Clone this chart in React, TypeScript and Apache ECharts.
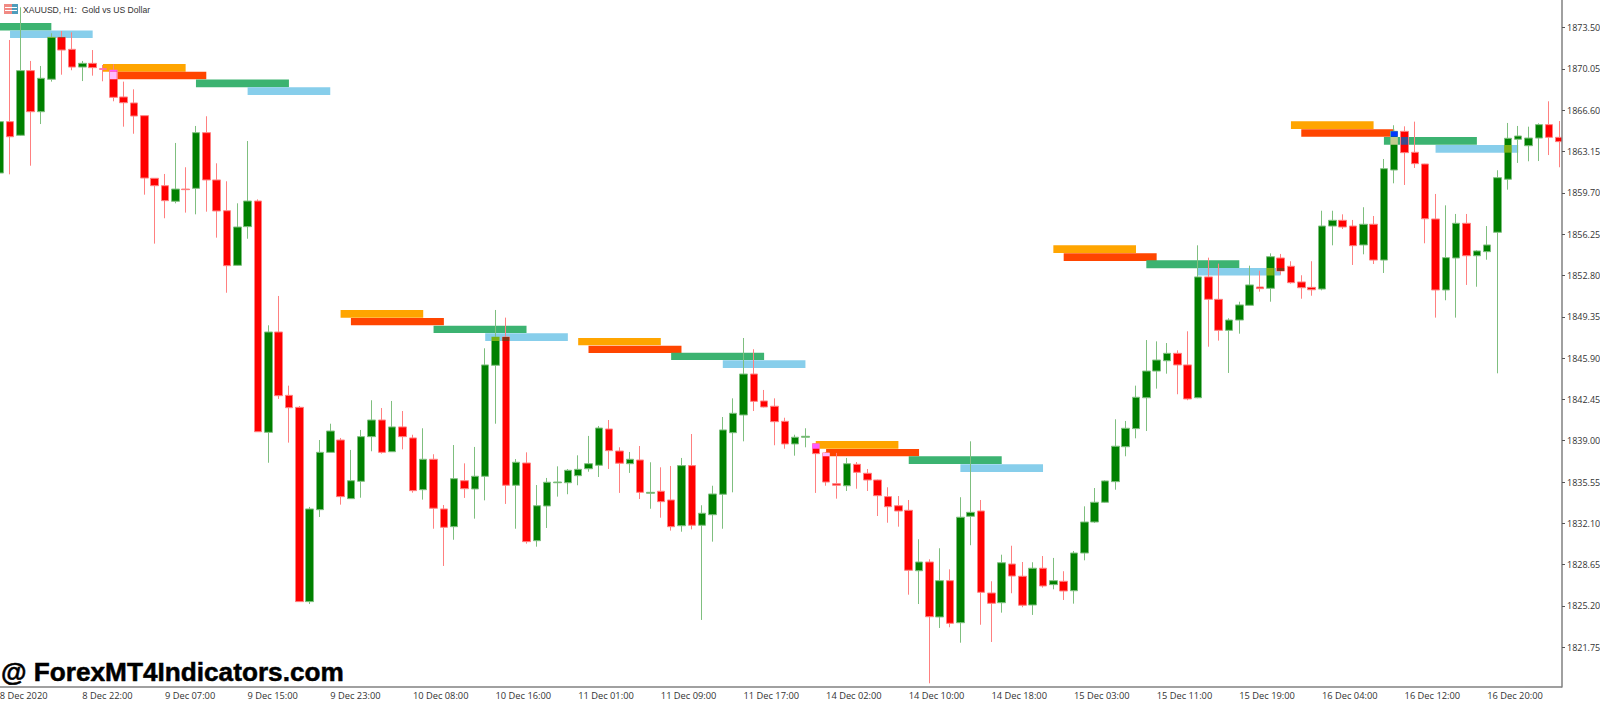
import React, { useEffect, useRef } from "react";
import * as echarts from "echarts";

const opens = [
  1861.36, 1865.65, 1864.51, 1869.91, 1866.48, 1869.19, 1872.69, 1871.69, 1870.21, 1870.52,
  1870.07, 1869.96, 1867.71, 1867.21, 1866.15, 1860.92, 1860.30, 1859.00, 1860.02, 1860.08,
  1864.73, 1860.78, 1858.21, 1853.65, 1856.88, 1859.02, 1839.70, 1848.08, 1842.79, 1841.79,
  1825.56, 1833.24, 1838.03, 1839.06, 1834.16, 1835.61, 1839.34, 1840.73, 1838.08, 1840.15,
  1839.23, 1834.91, 1837.45, 1833.30, 1831.82, 1835.66, 1834.97, 1836.03, 1845.30, 1847.66,
  1835.28, 1837.14, 1830.65, 1833.55, 1835.49, 1835.49, 1836.08, 1836.66, 1836.95, 1839.98,
  1838.14, 1837.08, 1837.39, 1834.61, 1834.78, 1834.05, 1831.90, 1836.92, 1831.94, 1832.82,
  1834.53, 1839.67, 1841.15, 1844.57, 1842.32, 1841.88, 1840.62, 1838.73, 1839.29, 1838.75,
  1837.98, 1835.41, 1835.24, 1837.03, 1836.28, 1835.72, 1834.33, 1833.57, 1833.19, 1828.14,
  1828.87, 1824.28, 1827.31, 1823.80, 1832.69, 1833.13, 1826.28, 1825.47, 1828.70, 1827.68,
  1825.28, 1828.35, 1826.98, 1827.26, 1826.47, 1829.62, 1832.21, 1833.86, 1835.58, 1838.50,
  1840.01, 1842.59, 1844.82, 1845.68, 1846.30, 1845.33, 1842.59, 1852.68, 1850.81, 1848.22,
  1849.08, 1850.31, 1851.84, 1851.73, 1854.26, 1853.57, 1852.26, 1851.81, 1851.67, 1856.93,
  1857.41, 1856.93, 1855.35, 1857.08, 1854.09, 1861.61, 1864.84, 1863.09, 1862.11, 1857.52,
  1851.59, 1854.26, 1857.16, 1854.45, 1854.79, 1856.41, 1860.84, 1864.18, 1863.64, 1864.28,
  1865.40, 1864.34,
];

const closes = [
  1865.65, 1864.39, 1869.91, 1866.48, 1869.27, 1872.69, 1871.63, 1870.21, 1870.52, 1870.16,
  1870.02, 1867.68, 1867.23, 1866.12, 1860.94, 1860.30, 1859.05, 1860.02, 1859.97, 1864.73,
  1860.78, 1858.19, 1853.62, 1856.85, 1859.02, 1839.75, 1848.08, 1842.76, 1841.76, 1825.56,
  1833.30, 1838.03, 1839.81, 1834.33, 1835.66, 1839.34, 1840.73, 1838.03, 1840.15, 1839.34,
  1834.83, 1837.45, 1833.36, 1831.77, 1835.83, 1834.99, 1836.03, 1845.33, 1847.66, 1835.28,
  1837.20, 1830.57, 1833.57, 1835.53, 1835.55, 1836.53, 1836.61, 1837.08, 1840.06, 1838.17,
  1837.12, 1837.45, 1834.69, 1834.69, 1833.91, 1831.82, 1836.92, 1831.94, 1832.94, 1834.55,
  1839.90, 1841.29, 1844.57, 1842.29, 1841.82, 1840.59, 1838.73, 1839.29, 1839.37, 1837.92,
  1835.55, 1835.28, 1837.08, 1836.36, 1835.72, 1834.41, 1833.49, 1833.13, 1828.18, 1828.87,
  1824.30, 1827.31, 1823.75, 1832.61, 1833.02, 1826.34, 1825.42, 1828.81, 1827.70, 1825.26,
  1828.35, 1826.87, 1827.31, 1826.45, 1829.62, 1832.21, 1833.86, 1835.64, 1838.54, 1840.04,
  1842.63, 1844.82, 1845.74, 1846.30, 1845.33, 1842.49, 1852.68, 1850.81, 1848.22, 1849.08,
  1850.34, 1852.01, 1851.70, 1854.37, 1853.18, 1852.20, 1851.78, 1851.61, 1856.93, 1857.41,
  1856.85, 1855.29, 1857.08, 1854.09, 1861.72, 1864.84, 1863.06, 1862.14, 1857.54, 1851.59,
  1854.29, 1857.16, 1854.45, 1854.85, 1855.35, 1860.97, 1864.26, 1864.45, 1864.28, 1865.40,
  1864.34, 1863.98,
];

const lows = [
  1861.19, 1861.25, 1864.45, 1861.97, 1865.45, 1868.99, 1869.57, 1869.94, 1869.04, 1869.49,
  1869.02, 1867.35, 1865.23, 1864.64, 1859.55, 1855.46, 1857.58, 1858.83, 1858.05, 1857.91,
  1858.13, 1855.96, 1851.36, 1853.62, 1855.87, 1839.75, 1837.16, 1842.49, 1838.84, 1825.56,
  1825.36, 1832.63, 1838.03, 1833.66, 1834.16, 1834.24, 1838.12, 1837.92, 1838.08, 1838.28,
  1834.66, 1834.08, 1831.65, 1828.54, 1830.73, 1834.22, 1832.49, 1834.02, 1840.42, 1833.72,
  1831.65, 1830.40, 1830.15, 1831.71, 1834.33, 1834.53, 1835.28, 1836.41, 1835.97, 1836.64,
  1834.64, 1836.31, 1834.13, 1833.32, 1832.57, 1831.49, 1831.40, 1831.60, 1824.03, 1830.57,
  1831.65, 1834.69, 1838.95, 1841.48, 1841.78, 1838.62, 1838.33, 1837.75, 1838.45, 1834.64,
  1835.24, 1834.16, 1834.80, 1834.99, 1834.80, 1832.71, 1832.15, 1831.82, 1826.14, 1825.36,
  1818.74, 1823.36, 1823.42, 1822.13, 1830.27, 1823.63, 1822.19, 1824.64, 1826.26, 1825.09,
  1824.45, 1826.73, 1826.59, 1825.70, 1825.39, 1829.01, 1832.13, 1833.80, 1834.91, 1837.70,
  1839.20, 1839.81, 1843.35, 1844.60, 1842.88, 1842.38, 1842.55, 1846.85, 1847.36, 1844.66,
  1847.94, 1850.31, 1851.45, 1850.61, 1852.87, 1852.12, 1850.86, 1851.11, 1851.56, 1855.32,
  1856.68, 1853.68, 1854.57, 1853.76, 1853.01, 1860.50, 1860.36, 1861.78, 1855.49, 1849.28,
  1850.73, 1849.28, 1852.01, 1851.86, 1854.12, 1844.63, 1859.97, 1862.20, 1862.34, 1862.36,
  1862.86, 1861.84,
];

const highs = [
  1866.21, 1872.47, 1875.20, 1870.72, 1870.30, 1873.03, 1873.22, 1873.11, 1870.72, 1871.63,
  1870.38, 1870.44, 1868.99, 1868.35, 1866.17, 1860.94, 1861.28, 1863.87, 1861.84, 1865.29,
  1866.10, 1862.17, 1860.67, 1858.83, 1864.03, 1859.16, 1848.64, 1851.09, 1843.60, 1841.90,
  1833.47, 1839.06, 1840.42, 1839.23, 1838.23, 1839.90, 1842.38, 1841.73, 1842.32, 1841.48,
  1839.50, 1840.04, 1837.87, 1833.63, 1838.64, 1837.11, 1838.48, 1846.72, 1849.92, 1849.28,
  1837.47, 1838.03, 1835.30, 1835.89, 1836.86, 1836.64, 1837.78, 1839.40, 1840.23, 1840.73,
  1838.45, 1838.06, 1838.56, 1837.20, 1836.78, 1836.89, 1837.56, 1839.56, 1833.61, 1835.24,
  1840.98, 1842.54, 1847.58, 1846.64, 1843.24, 1842.54, 1840.92, 1839.50, 1840.04, 1838.77,
  1838.06, 1837.98, 1837.56, 1837.22, 1836.64, 1835.75, 1835.11, 1834.38, 1834.05, 1830.77,
  1829.10, 1830.02, 1828.26, 1834.28, 1838.95, 1834.05, 1827.26, 1829.48, 1830.23, 1828.87,
  1828.85, 1829.37, 1829.21, 1828.10, 1829.79, 1833.52, 1835.05, 1835.70, 1840.79, 1840.65,
  1843.60, 1847.41, 1847.30, 1847.16, 1846.55, 1848.14, 1855.32, 1854.29, 1853.79, 1849.23,
  1850.61, 1853.62, 1853.20, 1854.65, 1854.60, 1853.99, 1852.82, 1853.99, 1858.21, 1858.21,
  1857.91, 1857.44, 1858.50, 1857.77, 1862.53, 1865.35, 1865.26, 1865.65, 1862.13, 1859.61,
  1858.66, 1857.94, 1857.94, 1854.93, 1856.93, 1861.59, 1865.54, 1865.29, 1865.23, 1865.51,
  1867.35, 1865.70,
];

// tick labels on the time axis, one every 8 bars
const timeLabels = [
  "8 Dec 2020", "8 Dec 22:00", "9 Dec 07:00", "9 Dec 15:00", "9 Dec 23:00",
  "10 Dec 08:00", "10 Dec 16:00", "11 Dec 01:00", "11 Dec 09:00", "11 Dec 17:00",
  "14 Dec 02:00", "14 Dec 10:00", "14 Dec 18:00", "15 Dec 03:00", "15 Dec 11:00",
  "15 Dec 19:00", "16 Dec 04:00", "16 Dec 12:00", "16 Dec 20:00",
];

const priceTicks = [
  1821.75, 1825.2, 1828.65, 1832.1, 1835.55, 1839.0, 1842.45, 1845.9,
  1849.35, 1852.8, 1856.25, 1859.7, 1863.15, 1866.6, 1870.05, 1873.5,
];

// indicator bands: first bar, last bar, upper and lower price, colour
const ORANGE = "#FFA500";
const ORANGERED = "#FF4500";
const SEAGREEN = "#3CB371";
const SKYBLUE = "#87CEEB";

const zoneStart = [0, 1, 10, 11, 19, 24, 33, 34, 42, 47, 56, 57, 65, 70, 79, 80, 88, 93, 102, 103, 111, 116, 125, 126, 134, 139];
const zoneEnd = [5, 9, 18, 20, 28, 32, 41, 43, 51, 55, 64, 66, 74, 78, 87, 89, 97, 101, 110, 112, 120, 124, 133, 135, 143, 147];
const zoneTop = [
  1873.89, 1873.26, 1870.46, 1869.82, 1869.17, 1868.52, 1849.92, 1849.25, 1848.61, 1847.97,
  1847.58, 1846.94, 1846.35, 1845.72, 1838.98, 1838.31, 1837.7, 1837.03, 1855.32, 1854.65,
  1854.07, 1853.43, 1865.68, 1865.01, 1864.37, 1863.7,
];
const zoneBottom = [
  1873.26, 1872.64, 1869.82, 1869.19, 1868.52, 1867.88, 1849.28, 1848.64, 1848.0, 1847.33,
  1846.97, 1846.33, 1845.74, 1845.07, 1838.33, 1837.7, 1837.06, 1836.39, 1854.68, 1854.01,
  1853.4, 1852.8, 1865.04, 1864.39, 1863.72, 1863.06,
];
const zoneColor = [
  SEAGREEN, SKYBLUE, ORANGE, ORANGERED, SEAGREEN, SKYBLUE, ORANGE, ORANGERED, SEAGREEN, SKYBLUE,
  ORANGE, ORANGERED, SEAGREEN, SKYBLUE, ORANGE, ORANGERED, SEAGREEN, SKYBLUE, ORANGE, ORANGERED,
  SEAGREEN, SKYBLUE, ORANGE, ORANGERED, SEAGREEN, SKYBLUE,
];

const UP = "#008000";
const DOWN = "#FF0000";
const BAR_STEP = 10.33;
const AXIS_X = 1562;
const AXIS_Y = 687;
const GRID_LEFT = -5.47;

// the terminal draws the bands with XOR, so candle bodies change colour under them
const xorColor = (body: string, zone: string) => {
  const b = parseInt(body.slice(1), 16);
  const z = parseInt(zone.slice(1), 16) ^ 0xffffff;
  return "#" + (b ^ z).toString(16).padStart(6, "0");
};

const App = () => {
  const chartRef = useRef<HTMLDivElement>(null);

  useEffect(() => {
    if (!chartRef.current) return;
    const chart = echarts.init(chartRef.current, null, { renderer: "svg" });

    const categories = opens.map((_, i) => (i % 8 === 0 ? timeLabels[i / 8] ?? "" : ""));
    const candles = opens.map((o, i) => [o, closes[i], lows[i], highs[i]]);
    const zones = zoneStart.map((s, i) => [s, zoneEnd[i], zoneTop[i], zoneBottom[i], i]);

    const option: any = {
      animation: false,
      backgroundColor: "#ffffff",
      grid: {
        left: GRID_LEFT,
        top: 0,
        width: BAR_STEP * opens.length,
        height: AXIS_Y,
        outerBoundsMode: "none",
      },
      xAxis: {
        type: "category",
        data: categories,
        boundaryGap: true,
        axisLine: { lineStyle: { color: "#808080", width: 1.5 } },
        axisTick: {
          interval: 7,
          alignWithLabel: true,
          length: 3,
          lineStyle: { color: "#555555" },
        },
        axisLabel: {
          interval: 7,
          align: "left",
          margin: 4,
          color: "#333333",
          fontFamily: "Open Sans",
          fontSize: 9.3,
        },
        splitLine: { show: false },
      },
      yAxis: {
        type: "value",
        position: "right",
        offset: AXIS_X - (GRID_LEFT + BAR_STEP * opens.length),
        min: 1818.43,
        max: 1875.81,
        z: 10,
        axisLine: { show: true, lineStyle: { color: "#808080", width: 1.5 } },
        axisTick: {
          show: true,
          length: 3,
          customValues: priceTicks,
          lineStyle: { color: "#555555" },
        },
        axisLabel: {
          customValues: priceTicks,
          margin: 5,
          color: "#333333",
          fontFamily: "Open Sans",
          fontSize: 9,
          formatter: (v: number) => v.toFixed(2),
        },
        splitLine: { show: false },
      },
      series: [
        {
          name: "Bands",
          type: "custom",
          z: 1,
          data: zones,
          encode: { x: [0, 1], y: [2, 3] },
          renderItem: (_: any, api: any) => {
            const a = api.coord([api.value(0), api.value(2)]);
            const b = api.coord([api.value(1), api.value(3)]);
            return {
              type: "rect",
              shape: { x: a[0], y: a[1], width: b[0] - a[0], height: b[1] - a[1] },
              style: { fill: zoneColor[api.value(4)] },
            };
          },
        },
        {
          name: "XAUUSD",
          type: "candlestick",
          z: 2,
          barWidth: 8,
          data: candles,
          itemStyle: {
            color: UP,
            color0: DOWN,
            borderColor: "#7fbf7f",
            borderColor0: "#ff8080",
            borderWidth: 1,
          },
        },
        {
          name: "Band overlap",
          type: "custom",
          z: 3,
          data: zones,
          encode: { x: [0, 1], y: [2, 3] },
          renderItem: (_: any, api: any) => {
            const zone = api.value(4);
            const children: any[] = [];
            for (let i = zoneStart[zone]; i <= zoneEnd[zone]; i++) {
              const hi = Math.min(Math.max(opens[i], closes[i]), zoneTop[zone]);
              const lo = Math.max(Math.min(opens[i], closes[i]), zoneBottom[zone]);
              if (hi <= lo) continue;
              const a = api.coord([i, hi]);
              const b = api.coord([i, lo]);
              children.push({
                type: "rect",
                shape: { x: a[0] - 3.5, y: a[1], width: 7, height: b[1] - a[1] },
                style: { fill: xorColor(closes[i] > opens[i] ? UP : DOWN, zoneColor[zone]) },
              });
            }
            return { type: "group", children };
          },
        },
      ],
      graphic: [
        // keeps the last bar from running under the price scale
        {
          type: "rect",
          z: 5,
          shape: { x: AXIS_X, y: 0, width: 1600 - AXIS_X, height: 702 },
          style: { fill: "#ffffff" },
        },
        // chart icon
        { type: "rect", z: 6, shape: { x: 4, y: 4, width: 8, height: 10 }, style: { fill: "#f08a84" } },
        { type: "rect", z: 6, shape: { x: 12, y: 4, width: 6, height: 10 }, style: { fill: "#4f9dbb" } },
        { type: "rect", z: 7, shape: { x: 5, y: 7, width: 12, height: 1 }, style: { fill: "#ffffff" } },
        { type: "rect", z: 7, shape: { x: 5, y: 10, width: 12, height: 1 }, style: { fill: "#ffffff" } },
        {
          type: "text",
          z: 8,
          x: 23,
          y: 10,
          style: {
            text: "XAUUSD, H1:  Gold vs US Dollar",
            fill: "#333333",
            font: "8.6px 'Liberation Sans'",
            verticalAlign: "middle",
          },
        },
        {
          type: "text",
          z: 8,
          x: 1,
          y: 672,
          style: {
            text: "@ ForexMT4Indicators.com",
            fill: "#000000",
            stroke: "#000000",
            lineWidth: 0.5,
            font: "bold 26.2px 'Liberation Sans'",
            verticalAlign: "middle",
          },
        },
      ],
    };

    chart.setOption(option);

    return () => {
      chart.dispose();
    };
  }, []);

  return (
    <div
      ref={chartRef}
      style={{ position: "fixed", left: 0, top: 0, width: 1600, height: 702 }}
    />
  );
};

export default App;
